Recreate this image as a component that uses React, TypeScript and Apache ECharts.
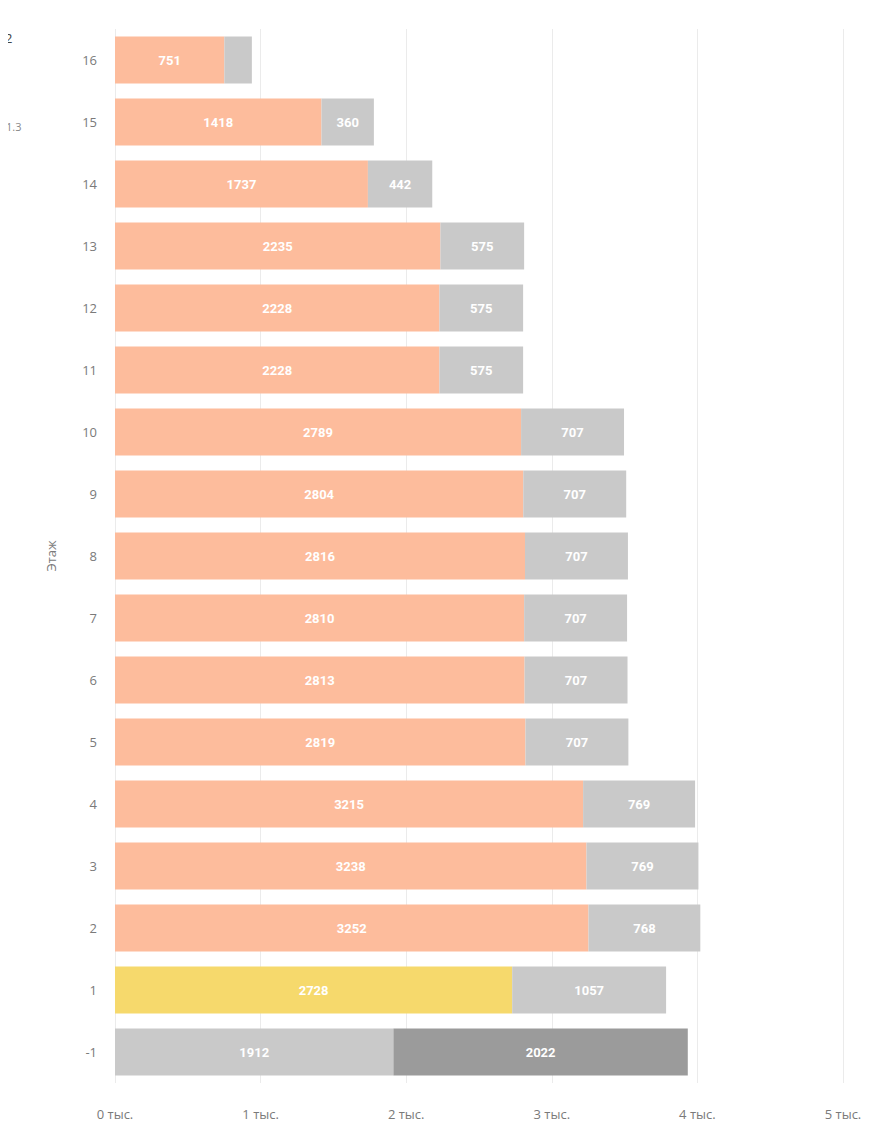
import React, { useEffect, useRef } from "react";
import * as echarts from "echarts";

const floors = ["-1", "1", "2", "3", "4", "5", "6", "7", "8", "9", "10", "11", "12", "13", "14", "15", "16"];
const primaryValues = [1912, 2728, 3252, 3238, 3215, 2819, 2813, 2810, 2816, 2804, 2789, 2228, 2228, 2235, 1737, 1418, 751];
const secondaryValues = [2022, 1057, 768, 769, 769, 707, 707, 707, 707, 707, 707, 575, 575, 575, 442, 360, 189];
const xTicks = [0, 1000, 2000, 3000, 4000, 5000];
const yAxisName = "Этаж";
const edgeFragments = ["2", "1.3"];

const ORANGE = "#FDBC9C";
const LIGHT_GRAY = "#C9C9C9";
const DARK_GRAY = "#9B9B9B";
const YELLOW = "#F6D96C";

export default function App() {
  const ref = useRef<HTMLDivElement>(null);
  useEffect(() => {
    if (!ref.current) return;
    const chart = echarts.init(ref.current, undefined, { renderer: "svg" });
    const labelFmt = (p: any) => (p.value >= 250 ? String(p.value) : "");
    const labelStyle = {
      show: true,
      position: "inside",
      color: "#ffffff",
      fontWeight: "bold",
      fontSize: 13,
      fontFamily: "Roboto, sans-serif",
      formatter: labelFmt,
    };
    chart.setOption({
      animation: false,
      textStyle: { fontFamily: "'Open Sans', sans-serif" },
      grid: { left: 115, right: 53, top: 29, bottom: 51, containLabel: false },
      xAxis: {
        type: "value",
        min: xTicks[0],
        max: xTicks[xTicks.length - 1],
        interval: 1000,
        axisLine: { show: false },
        axisTick: { show: false },
        splitLine: { show: true, lineStyle: { color: "#EBEBEB", width: 1 } },
        axisLabel: {
          margin: 24,
          color: "#7A7A7A",
          fontSize: 13,
          fontFamily: "'Open Sans', sans-serif",
          formatter: (v: number) => `${v / 1000} тыс.`,
        },
      },
      yAxis: {
        type: "category",
        data: floors,
        name: yAxisName,
        nameLocation: "middle",
        nameGap: 58,
        nameRotate: 90,
        nameTextStyle: { color: "#7A7A7A", fontSize: 13, fontFamily: "'Open Sans', sans-serif" },
        axisLine: { show: false },
        axisTick: { show: false },
        axisLabel: { margin: 18, color: "#7A7A7A", fontSize: 13, fontFamily: "'Open Sans', sans-serif" },
      },
      series: [
        {
          name: "primary",
          type: "bar",
          stack: "total",
          barCategoryGap: "24%",
          data: primaryValues.map((v, i) => ({
            value: v,
            itemStyle: { color: floors[i] === "-1" ? LIGHT_GRAY : floors[i] === "1" ? YELLOW : ORANGE },
          })),
          label: labelStyle,
        },
        {
          name: "secondary",
          type: "bar",
          stack: "total",
          barCategoryGap: "24%",
          data: secondaryValues.map((v, i) => ({
            value: v,
            itemStyle: { color: floors[i] === "-1" ? DARK_GRAY : LIGHT_GRAY },
          })),
          label: labelStyle,
        },
      ],
      graphic: [
        { type: "text", x: 5, y: 31, style: { text: edgeFragments[0], fill: "#444", fontSize: 13, fontFamily: "'Open Sans', sans-serif" } },
        { type: "text", x: 6, y: 121, style: { text: edgeFragments[1], fill: "#888", fontSize: 11, fontFamily: "'Open Sans', sans-serif" } },
      ],
    });
    return () => chart.dispose();
  }, []);
  return <div ref={ref} style={{ width: 896, height: 1134, margin: "-8px" }} />;
}
